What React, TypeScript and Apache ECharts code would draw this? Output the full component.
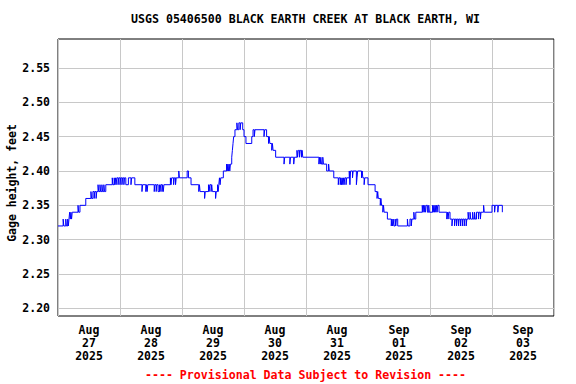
import React, { useEffect, useRef } from "react";
import * as echarts from "echarts";

const TITLE = "USGS 05406500 BLACK EARTH CREEK AT BLACK EARTH, WI";
const Y_NAME = "Gage height, feet";
const FOOTER = "---- Provisional Data Subject to Revision ----";

const dayLabels = [
  "Aug\n27\n2025",
  "Aug\n28\n2025",
  "Aug\n29\n2025",
  "Aug\n30\n2025",
  "Aug\n31\n2025",
  "Sep\n01\n2025",
  "Sep\n02\n2025",
  "Sep\n03\n2025",
];
const labelHours = [12, 36, 60, 84, 108, 132, 156, 180];
const yTicks = [2.2, 2.25, 2.3, 2.35, 2.4, 2.45, 2.5, 2.55];
const Y_MIN = 2.189;
const Y_MAX = 2.592;
const X_MAX = 192;

// [hours since Aug 27 00:00, gage height] at each change of reading
const aug27: [number, number][] = [
  [0, 2.32], [2, 2.33], [2.25, 2.32], [3, 2.33], [3.25, 2.32], [3.75, 2.33], [4, 2.32], [4.25, 2.33],
  [4.5, 2.34], [4.75, 2.33], [5, 2.34], [5.25, 2.33], [5.5, 2.34], [7.75, 2.35], [8, 2.34], [8.5, 2.35],
  [10.75, 2.36], [12.75, 2.37], [13, 2.36], [13.5, 2.37], [14, 2.36], [14.25, 2.37], [14.75, 2.36], [15, 2.37],
  [15.5, 2.38], [15.75, 2.37], [16.25, 2.38], [16.5, 2.37], [17, 2.38], [17.25, 2.37], [17.75, 2.38], [18, 2.37],
  [18.5, 2.38], [21, 2.39], [21.25, 2.38], [21.75, 2.39], [22, 2.38], [22.25, 2.39], [22.5, 2.38], [22.75, 2.39],
  [23.25, 2.38], [23.5, 2.39],
];
const aug28: [number, number][] = [
  [24, 2.38], [24.25, 2.39], [24.75, 2.38], [25, 2.39], [25.5, 2.38], [25.75, 2.39], [26.25, 2.38],
  [27.25, 2.39], [28.25, 2.38], [28.5, 2.39], [29.75, 2.38], [32.5, 2.37], [32.75, 2.38], [34, 2.37],
  [34.25, 2.38], [34.5, 2.37], [34.75, 2.38], [37.25, 2.37], [37.5, 2.38], [38, 2.37], [38.25, 2.38],
  [38.75, 2.37], [39.25, 2.38], [39.5, 2.37], [39.75, 2.38], [40.25, 2.37], [40.5, 2.38], [40.75, 2.37],
  [41, 2.38], [43.5, 2.39], [43.75, 2.38], [44, 2.39], [44.75, 2.38], [45, 2.39], [45.5, 2.38],
  [45.75, 2.39], [46.75, 2.4], [47, 2.39],
];
const aug29: [number, number][] = [
  [50, 2.4], [50.5, 2.39], [51.5, 2.38], [54.5, 2.37], [54.75, 2.38], [55, 2.37], [56.75, 2.36], [57, 2.37],
  [58.25, 2.38], [58.5, 2.37], [58.75, 2.38], [59.25, 2.37], [59.5, 2.38], [59.75, 2.37], [61, 2.36],
  [61.25, 2.37], [61.75, 2.38], [62, 2.37], [62.25, 2.38], [62.5, 2.39], [62.75, 2.38], [63, 2.39],
  [64, 2.4], [65.25, 2.41], [65.5, 2.4], [65.75, 2.41], [66, 2.4], [66.25, 2.41], [66.5, 2.4], [66.75, 2.41],
  [67.25, 2.42], [67.5, 2.43], [67.75, 2.44], [68, 2.45], [68.5, 2.46], [69.25, 2.47], [69.5, 2.46],
  [70, 2.47], [70.5, 2.46], [70.75, 2.47], [71.5, 2.46],
];
const aug30: [number, number][] = [
  [72, 2.45], [72.75, 2.44], [75, 2.45], [75.5, 2.46], [76, 2.45], [76.25, 2.46], [79.75, 2.45], [80, 2.46],
  [80.75, 2.45], [81.5, 2.44], [81.75, 2.45], [82, 2.44], [82.75, 2.43], [83, 2.44], [83.25, 2.43],
  [84.25, 2.42], [87.5, 2.41], [87.75, 2.42], [89.75, 2.41], [90, 2.42], [91.25, 2.41], [91.5, 2.42],
  [92.5, 2.43], [92.75, 2.42], [93, 2.43], [93.5, 2.42], [93.75, 2.43], [94.25, 2.42], [94.5, 2.43],
  [94.75, 2.42],
];
const aug31: [number, number][] = [
  [101, 2.41], [101.25, 2.42], [101.5, 2.41], [101.75, 2.42], [102, 2.41], [102.5, 2.42], [102.75, 2.41],
  [104, 2.4], [104.75, 2.41], [105, 2.4], [106.75, 2.39], [108.5, 2.38], [108.75, 2.39], [109.25, 2.38],
  [109.5, 2.39], [109.75, 2.38], [110, 2.39], [110.25, 2.38], [110.5, 2.39], [110.75, 2.38], [111, 2.39],
  [111.5, 2.38], [111.75, 2.39], [112.75, 2.4], [113, 2.38], [113.25, 2.4], [114, 2.39], [114.25, 2.4],
  [115.5, 2.38], [115.75, 2.39], [116, 2.4], [117.5, 2.39], [117.75, 2.4], [118, 2.39], [118.5, 2.38],
  [118.75, 2.39],
];
const sep01: [number, number][] = [
  [120, 2.38], [122.75, 2.37], [123.5, 2.36], [123.75, 2.37], [124, 2.36], [124.75, 2.35], [125, 2.36],
  [125.25, 2.35], [125.75, 2.34], [126, 2.35], [126.25, 2.34], [127.5, 2.33], [129, 2.32], [129.25, 2.33],
  [129.5, 2.32], [129.75, 2.33], [130, 2.32], [130.5, 2.33], [130.75, 2.32], [131, 2.33], [131.5, 2.32],
  [135.25, 2.33], [135.5, 2.32], [136.25, 2.33], [136.75, 2.32], [137, 2.33], [137.75, 2.34], [138, 2.33],
  [138.5, 2.34], [141, 2.35], [141.25, 2.34], [141.5, 2.35], [141.75, 2.34], [142, 2.35], [142.25, 2.34],
  [142.5, 2.35], [143, 2.34], [143.5, 2.35], [143.75, 2.34],
];
const sep02: [number, number][] = [
  [145, 2.35], [145.25, 2.34], [145.5, 2.35], [145.75, 2.34], [146, 2.35], [146.25, 2.34], [146.5, 2.35],
  [146.75, 2.34], [147, 2.35], [147.5, 2.34], [150.5, 2.33], [150.75, 2.34], [151, 2.33], [151.25, 2.34],
  [151.75, 2.33], [152.5, 2.32], [152.75, 2.33], [153.5, 2.32], [153.75, 2.33], [154.25, 2.32], [154.5, 2.33],
  [155, 2.32], [155.25, 2.33], [155.75, 2.32], [156, 2.33], [156.5, 2.32], [156.75, 2.33], [157.25, 2.32],
  [157.5, 2.33], [158, 2.32], [158.25, 2.33], [158.75, 2.34], [159, 2.33], [159.5, 2.34], [159.75, 2.33],
  [160.5, 2.34], [160.75, 2.33], [161.25, 2.34], [161.5, 2.33], [162, 2.34], [162.75, 2.33], [163, 2.34],
  [163.5, 2.33], [163.75, 2.34], [164.75, 2.35], [165, 2.34],
];
const sep03: [number, number][] = [
  [168, 2.35], [169, 2.34], [169.25, 2.35], [170.25, 2.34], [170.5, 2.35], [172, 2.34],
];

const gageData = [...aug27, ...aug28, ...aug29, ...aug30, ...aug31, ...sep01, ...sep02, ...sep03];

const FONT = "DejaVu Sans Mono";

export default function App() {
  const ref = useRef<HTMLDivElement>(null);
  useEffect(() => {
    if (!ref.current) return;
    const chart = echarts.init(ref.current, null, { renderer: "svg" });
    chart.setOption({
      animation: false,
      backgroundColor: "#ffffff",
      grid: {
        left: 58,
        top: 39,
        width: 496,
        height: 277,
        show: true,
        borderColor: "#000",
        borderWidth: 1,
        backgroundColor: "transparent",
      },
      xAxis: {
        type: "value",
        min: 0,
        max: X_MAX,
        interval: 24,
        axisLine: { show: false },
        axisTick: { show: false },
        splitLine: { show: true, lineStyle: { color: "#c8c8c8", width: 1 } },
        axisLabel: {
          customValues: labelHours,
          formatter: (v: number) => dayLabels[Math.floor(v / 24)] ?? "",
          fontFamily: FONT,
          fontSize: 11.5,
          fontWeight: "bold",
          color: "#000",
          lineHeight: 13,
          margin: 7,
        },
      },
      yAxis: {
        type: "value",
        min: Y_MIN,
        max: Y_MAX,
        axisLine: { show: false },
        axisTick: { show: false, customValues: yTicks },
        splitLine: { show: true, lineStyle: { color: "#c8c8c8", width: 1 } },
        axisLabel: {
          customValues: yTicks,
          formatter: (v: number) => v.toFixed(2),
          fontFamily: FONT,
          fontSize: 11.5,
          fontWeight: "bold",
          color: "#000",
          margin: 8,
        },
      },
      graphic: [
        {
          type: "text",
          x: 305.5,
          y: 19,
          style: {
            text: TITLE,
            fontFamily: FONT,
            fontSize: 11.6,
            fontWeight: "bold",
            fill: "#000",
            align: "center",
            verticalAlign: "middle",
          },
        },
        {
          type: "text",
          x: 12,
          y: 183,
          rotation: Math.PI / 2,
          style: {
            text: Y_NAME,
            fontFamily: FONT,
            fontSize: 11.5,
            fontWeight: "bold",
            fill: "#000",
            align: "center",
            verticalAlign: "middle",
          },
        },
        {
          type: "text",
          x: 305.5,
          y: 375,
          style: {
            text: FOOTER,
            fontFamily: FONT,
            fontSize: 11.6,
            fontWeight: "bold",
            fill: "#ff0000",
            align: "center",
            verticalAlign: "middle",
          },
        },
      ],
      series: [
        {
          type: "line",
          step: "end",
          data: gageData,
          showSymbol: false,
          lineStyle: { color: "#0000ff", width: 1 },
          silent: true,
        },
      ],
    });
    return () => chart.dispose();
  }, []);
  return (
    <div
      ref={ref}
      style={{ position: "absolute", left: 0, top: 0, width: 576, height: 384 }}
    />
  );
}
